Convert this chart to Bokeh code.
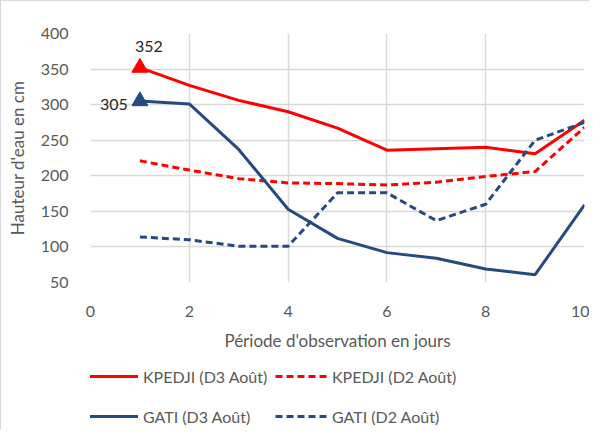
from bokeh.plotting import figure
from bokeh.layouts import column
from bokeh.models import Legend, LegendItem, Range1d, FixedTicker
from bokeh.core.properties import value
from bokeh.embed import file_html
from bokeh.resources import INLINE

days = [1, 2, 3, 4, 5, 6, 7, 8, 9, 10]
kpedji_d3 = [352, 327, 306, 290, 267, 236, 238, 240, 231, 278]
kpedji_d2 = [221, 208, 196, 190, 189, 187, 191, 199, 206, 268]
gati_d3 = [305, 301, 237, 153, 112, 92, 84, 69, 61, 159]
gati_d2 = [114, 110, 101, 101, 176, 176, 137, 160, 250, 275]
x_ticks = [0, 2, 4, 6, 8, 10]
y_ticks = [50, 100, 150, 200, 250, 300, 350, 400]
peak_x = [1, 1]
peak_y = [352, 305]
peak_labels = ["352", "305"]
series_names = ["KPEDJI (D3 Août)", "KPEDJI (D2 Août)", "GATI (D3 Août)", "GATI (D2 Août)"]

RED = "#FF0000"
BLUE = "#254A7F"
GRAY = "#595959"
FONT = "Lato"
DASH = "7 4"

p = figure(width=589, height=360, output_backend="svg", toolbar_location=None,
           x_range=Range1d(0, 10), y_range=Range1d(50, 400),
           min_border_left=89, min_border_top=32, min_border_right=6, min_border_bottom=79)
p.styles = {"border-top": "1px solid #D9D9D9", "border-left": "1px solid #D9D9D9"}
p.outline_line_color = None
p.background_fill_color = "white"

for ax in (p.xaxis[0], p.yaxis[0]):
    ax.axis_line_color = None
    ax.major_tick_line_color = None
    ax.minor_tick_line_color = None
    ax.major_label_text_color = GRAY
    ax.major_label_text_font = FONT
    ax.major_label_text_font_size = "16px"
    ax.axis_label_text_color = GRAY
    ax.axis_label_text_font = FONT
    ax.axis_label_text_font_size = "17px"
    ax.axis_label_text_font_style = "normal"

p.xaxis.ticker = FixedTicker(ticks=x_ticks)
p.yaxis.ticker = FixedTicker(ticks=y_ticks)
p.xaxis.axis_label = "Période d'observation en jours"
p.yaxis.axis_label = "Hauteur d'eau en cm"
p.xaxis.major_label_standoff = 17
p.yaxis.major_label_standoff = 16
p.xaxis.axis_label_standoff = 10
p.yaxis.axis_label_standoff = 10

p.xgrid.grid_line_color = "#D9D9D9"
p.ygrid.grid_line_color = "#D9D9D9"
p.xgrid.grid_line_width = 1.5
p.ygrid.grid_line_width = 1.5

p.line(days, kpedji_d3, line_color=RED, line_width=3)
p.line(days, kpedji_d2, line_color=RED, line_width=3, line_dash=DASH)
p.line(days, gati_d3, line_color=BLUE, line_width=3)
p.line(days, gati_d2, line_color=BLUE, line_width=3, line_dash=DASH)

p.scatter([peak_x[0]], [peak_y[0]], marker="triangle", size=16, fill_color=RED, line_color=RED)
p.scatter([peak_x[1]], [peak_y[1]], marker="triangle", size=16, fill_color=BLUE, line_color=BLUE)

p.text([peak_x[0]], [peak_y[0]], text=[peak_labels[0]], x_offset=9, y_offset=-21,
       text_align="center", text_baseline="middle", text_font=value(FONT),
       text_font_size="16px", text_color="#262626")
p.text([peak_x[1]], [peak_y[1]], text=[peak_labels[1]], x_offset=-26, y_offset=3,
       text_align="center", text_baseline="middle", text_font=value(FONT),
       text_font_size="16px", text_color="#262626")

# Legend figure below the chart (its series lie outside its own visible range)
p2 = figure(width=589, height=70, output_backend="svg", toolbar_location=None,
            x_range=Range1d(-1, 0), y_range=Range1d(-1, 0),
            min_border_left=0, min_border_top=0, min_border_right=0, min_border_bottom=0)
p2.styles = {"border-left": "1px solid #D9D9D9"}
p2.axis.visible = False
p2.grid.visible = False
p2.outline_line_color = None

e1 = p2.line(days, kpedji_d3, line_color=RED, line_width=3)
e2 = p2.line(days, kpedji_d2, line_color=RED, line_width=3, line_dash=DASH)
e3 = p2.line(days, gati_d3, line_color=BLUE, line_width=3)
e4 = p2.line(days, gati_d2, line_color=BLUE, line_width=3, line_dash=DASH)


def make_legend(items, loc):
    lg = Legend(items=items, location=loc, orientation="horizontal")
    lg.label_text_font = FONT
    lg.label_text_font_size = "16px"
    lg.label_text_color = GRAY
    lg.glyph_width = 52
    lg.glyph_height = 20
    lg.label_height = 20
    lg.label_width = 126
    lg.label_standoff = 5
    lg.spacing = 6
    lg.border_line_color = None
    lg.background_fill_alpha = 0
    lg.padding = 0
    lg.margin = 0
    return lg


leg1 = make_legend([LegendItem(label=series_names[0], renderers=[e1]),
                    LegendItem(label=series_names[1], renderers=[e2])], (-4, 44))
leg2 = make_legend([LegendItem(label=series_names[2], renderers=[e3]),
                    LegendItem(label=series_names[3], renderers=[e4])], (-4, 4))
p2.add_layout(leg1)
p2.add_layout(leg2)

layout = column(p, p2, spacing=0)
open("out.html", "w").write(file_html(layout, INLINE))
